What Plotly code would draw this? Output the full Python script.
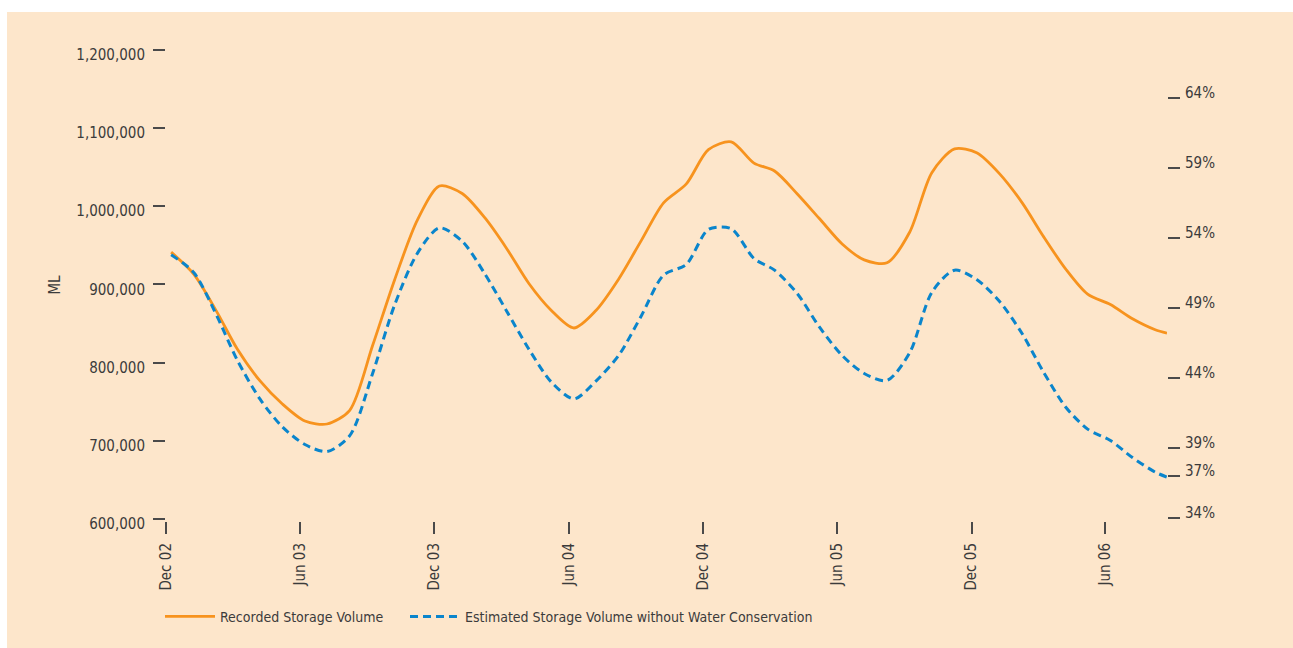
import plotly.graph_objects as go

# Monthly readings (8th of each month) plus the final reading on 24 Aug 2006
dates = [
    "2002-12-08", "2003-01-08", "2003-02-08", "2003-03-08", "2003-04-08", "2003-05-08",
    "2003-06-08", "2003-07-08", "2003-08-08", "2003-09-08", "2003-10-08", "2003-11-08",
    "2003-12-08", "2004-01-08", "2004-02-08", "2004-03-08", "2004-04-08", "2004-05-08",
    "2004-06-08", "2004-07-08", "2004-08-08", "2004-09-08", "2004-10-08", "2004-11-08",
    "2004-12-08", "2005-01-08", "2005-02-08", "2005-03-08", "2005-04-08", "2005-05-08",
    "2005-06-08", "2005-07-08", "2005-08-08", "2005-09-08", "2005-10-08", "2005-11-08",
    "2005-12-08", "2006-01-08", "2006-02-08", "2006-03-08", "2006-04-08", "2006-05-08",
    "2006-06-08", "2006-07-08", "2006-08-08", "2006-08-24",
]

# Storage volume in ML
recorded = [
    941000, 912700, 865000, 817200, 776400, 747300,
    725200, 721400, 738900, 821300, 905500, 981900,
    1025500, 1016000, 984700, 946400, 900600, 866800,
    844100, 866500, 906800, 956400, 1004100, 1028300,
    1072000, 1082000, 1054800, 1044700, 1015400, 984000,
    951500, 931200, 927400, 966800, 1042600, 1073000,
    1068000, 1041400, 1004000, 962400, 919600, 887300,
    874100, 855900, 841900, 837600,
]

without_conservation = [
    937600, 914700, 859900, 802900, 753100, 718000,
    695200, 686200, 706500, 785600, 873400, 939500,
    972000, 955000, 913000, 866600, 816700, 775300,
    753400, 776300, 809200, 860100, 911700, 925400,
    970000, 971000, 932900, 918000, 888000, 845400,
    808900, 786000, 777100, 812700, 889700, 918000,
    906000, 878200, 836700, 789400, 743200, 714900,
    700300, 678500, 659900, 653500,
]

x_tick_dates = ["2002-12-01", "2003-06-01", "2003-12-01", "2004-06-01",
                "2004-12-01", "2005-06-01", "2005-12-01", "2006-06-01"]
x_tick_labels = ["Dec 02", "Jun 03", "Dec 03", "Jun 04",
                 "Dec 04", "Jun 05", "Dec 05", "Jun 06"]

ml_ticks = [600000, 700000, 800000, 900000, 1000000, 1100000, 1200000]
pct_ticks = [34, 37, 39, 44, 49, 54, 59, 64]
pct_labels = [f"{p}%" for p in pct_ticks]

FONT = "DejaVu Sans Condensed, Liberation Sans, sans-serif"
TEXT = "#3b3b3b"
TICK = "#4a4a4a"
PEACH = "#fde6cb"
ORANGE = "#f7931e"
BLUE = "#0a85cc"

W, H = 1293, 648
L, R, T, B = 166, 126, 49, 127

fig = go.Figure()
fig.add_trace(go.Scatter(
    x=dates, y=recorded, name="Recorded Storage Volume",
    mode="lines", line=dict(color=ORANGE, width=2.8, shape="spline", smoothing=0.8),
    legendwidth=180, hoverinfo="skip",
))
fig.add_trace(go.Scatter(
    x=dates, y=without_conservation,
    name="Estimated Storage Volume without Water Conservation",
    mode="lines",
    line=dict(color=BLUE, width=3, dash="8px,5px", shape="spline", smoothing=0.8),
    hoverinfo="skip",
))
# Empty trace so the percentage-of-capacity axis is drawn on the right
fig.add_trace(go.Scatter(x=[], y=[], yaxis="y2", showlegend=False, hoverinfo="skip"))

# Peach panel behind the whole chart (white strip on the top and left)
plot_w, plot_h = W - L - R, H - T - B
fig.add_shape(
    type="rect", xref="paper", yref="paper", layer="below",
    x0=(7 - L) / plot_w, x1=(W - L) / plot_w,
    y0=-(B) / plot_h, y1=1 + (T - 12) / plot_h,
    line=dict(width=0), fillcolor=PEACH,
)

fig.update_layout(
    width=W, height=H, autosize=False,
    margin=dict(l=L, r=R, t=T, b=B, pad=0),
    paper_bgcolor="white", plot_bgcolor="rgba(0,0,0,0)",
    font=dict(family=FONT, size=15, color=TEXT),
    showlegend=True,
    legend=dict(
        orientation="h", x=-0.006, xanchor="left", y=-0.203, yanchor="middle",
        bgcolor="rgba(0,0,0,0)", font=dict(size=14, color=TEXT),
        itemwidth=50,
    ),
    xaxis=dict(
        type="date", range=["2002-12-01", "2006-08-24"],
        tickmode="array", tickvals=x_tick_dates, ticktext=x_tick_labels,
        tickangle=-90, ticks="outside", ticklen=12, tickwidth=2, tickcolor=TICK,
        showgrid=False, zeroline=False, showline=False, automargin=False,
        ticklabelstandoff=3,
    ),
    yaxis=dict(
        range=[597444, 1200639],
        tickmode="array", tickvals=ml_ticks, tickformat=",",
        ticks="outside", ticklen=12, tickwidth=2, tickcolor=TICK,
        showgrid=False, zeroline=False, showline=False, automargin=False,
        ticklabelstandoff=5, ticklabelshift=5,
        title=dict(text="ML", standoff=12, font=dict(size=15)),
    ),
    yaxis2=dict(
        overlaying="y", side="right", anchor="x", type="linear",
        range=[33.786, 67.5],
        tickmode="array", tickvals=pct_ticks, ticktext=pct_labels,
        ticks="outside", ticklen=12, tickwidth=2, tickcolor=TICK,
        showgrid=False, zeroline=False, showline=False, automargin=False,
        ticklabelstandoff=2, ticklabelshift=-5,
    ),
)

fig.write_html("out.html")
